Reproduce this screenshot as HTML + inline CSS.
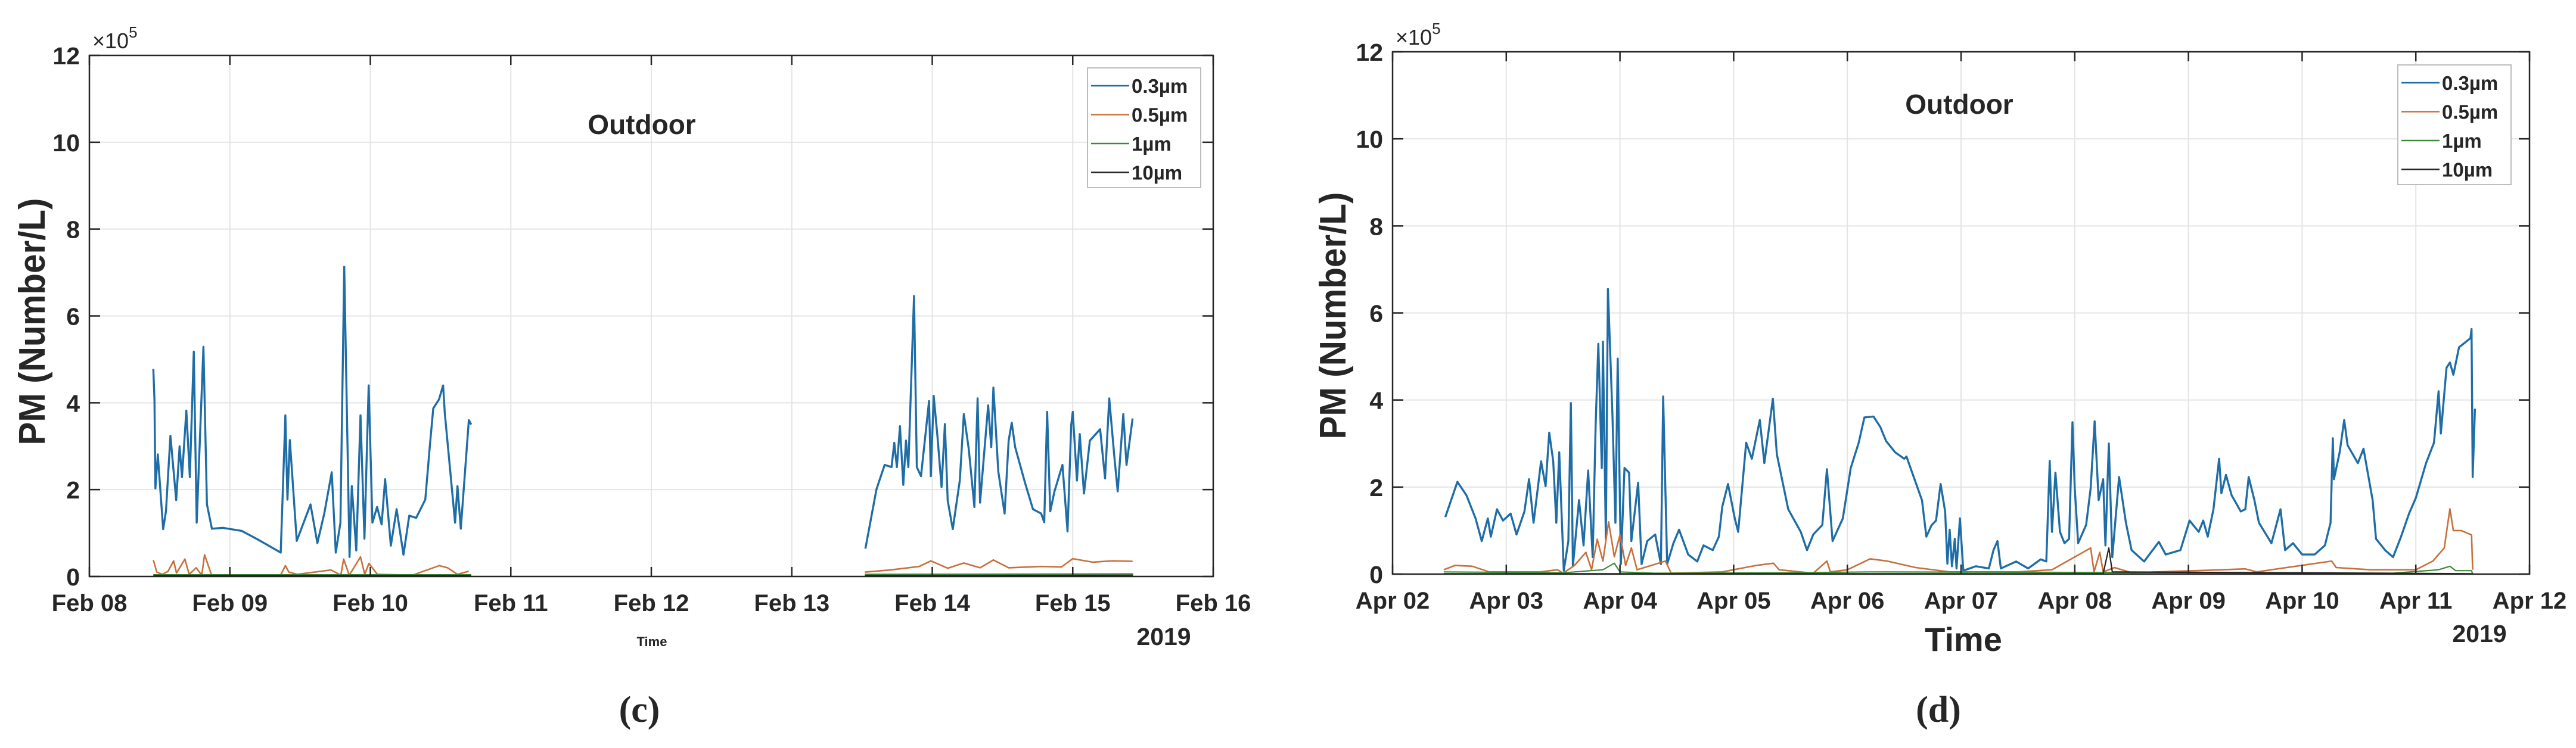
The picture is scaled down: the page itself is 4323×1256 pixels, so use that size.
<!DOCTYPE html>
<html><head><meta charset="utf-8"><style>
html,body{margin:0;padding:0;background:#fff;}
svg{display:block;}
text{font-family:"Liberation Sans",Arial,sans-serif;fill:#262626;}
</style></head>
<body>
<svg id="fig" xmlns="http://www.w3.org/2000/svg" width="4323" height="1256" viewBox="0 0 4323 1256">
<rect width="4323" height="1256" fill="#fff"/>
</svg>
<script>
// ---------- Chart (c): Feb 08 - Feb 16 ----------
const cTickLabels = ["Feb 08","Feb 09","Feb 10","Feb 11","Feb 12","Feb 13","Feb 14","Feb 15","Feb 16"];
const yTickLabels = ["0","2","4","6","8","10","12"];
const yTickValues = [0,2,4,6,8,10,12];
const seriesNames = ["0.3µm","0.5µm","1µm","10µm"];
// time in days from first tick; values x10^5 (null = gap)
const cBlueT = [0.455,0.463,0.47,0.487,0.525,0.545,0.577,0.618,0.642,0.659,0.69,0.715,0.743,0.764,0.812,0.837,0.872,0.95,1.084,1.2,1.362,1.395,1.41,1.427,1.476,1.574,1.623,1.672,1.725,1.754,1.787,1.814,1.852,1.868,1.9,1.93,1.958,1.988,2.015,2.048,2.08,2.105,2.146,2.187,2.236,2.277,2.326,2.391,2.424,2.448,2.489,2.518,2.53,2.603,2.62,2.644,2.701,2.718,
 null,
 5.524,5.603,5.661,5.71,5.73,5.748,5.77,5.794,5.813,5.83,5.87,5.89,5.92,5.977,5.99,6.01,6.037,6.066,6.09,6.11,6.146,6.196,6.225,6.26,6.3,6.323,6.34,6.398,6.42,6.435,6.47,6.515,6.544,6.566,6.59,6.66,6.717,6.775,6.797,6.818,6.84,6.87,6.927,6.963,6.989,7.0,7.03,7.05,7.08,7.122,7.195,7.23,7.26,7.296,7.32,7.36,7.383,7.426];
const cBlueV = [4.78,4.08,2.03,2.81,1.09,1.5,3.24,1.76,3.0,2.29,3.82,2.29,5.18,1.24,5.29,1.66,1.1,1.12,1.05,0.85,0.55,3.71,1.77,3.14,0.82,1.66,0.77,1.45,2.4,0.55,1.24,7.13,0.45,2.08,0.6,3.71,0.87,4.4,1.24,1.6,1.2,2.24,0.71,1.55,0.5,1.4,1.35,1.77,3.03,3.87,4.08,4.4,3.77,1.24,2.08,1.1,3.6,3.5,
 null,
 0.64,2.01,2.57,2.52,3.08,2.52,3.46,2.11,3.13,2.52,6.46,2.52,2.31,4.04,2.31,4.16,3.23,2.06,3.51,1.75,1.09,2.21,3.74,2.93,1.6,4.1,1.7,3.94,2.98,4.35,2.42,1.45,3.13,3.54,2.98,2.16,1.55,1.45,1.25,3.79,1.5,1.96,2.57,1.04,3.49,3.79,2.21,3.28,1.91,3.13,3.39,2.26,4.1,2.77,1.96,3.74,2.57,3.64];
const cOrangeT = [0.455,0.48,0.52,0.56,0.6,0.62,0.68,0.71,0.76,0.8,0.82,0.87,1.0,1.36,1.395,1.42,1.48,1.72,1.79,1.81,1.85,1.93,1.96,1.99,2.05,2.3,2.49,2.55,2.62,2.7,
 null,5.52,5.7,5.907,5.99,6.11,6.225,6.34,6.435,6.544,6.775,6.92,7.0,7.14,7.28,7.426];
const cOrangeV = [0.38,0.1,0.05,0.12,0.36,0.08,0.4,0.05,0.2,0.03,0.5,0.03,0.02,0.02,0.25,0.1,0.05,0.15,0.03,0.4,0.03,0.45,0.05,0.3,0.05,0.03,0.25,0.2,0.05,0.12,
 null,0.1,0.15,0.23,0.36,0.19,0.31,0.2,0.38,0.2,0.23,0.22,0.41,0.33,0.36,0.35];
const cGreenT = [0.455,2.718,null,5.52,7.43];
const cGreenV = [0.04,0.04,null,0.05,0.06];
const cBlackT = [0.455,2.718,null,5.52,7.43];
const cBlackV = [0.02,0.02,null,0.02,0.03];

// ---------- Chart (d): Apr 02 - Apr 12 ----------
const dTickLabels = ["Apr 02","Apr 03","Apr 04","Apr 05","Apr 06","Apr 07","Apr 08","Apr 09","Apr 10","Apr 11","Apr 12"];
const dBlueT = [0.464,0.57,0.65,0.73,0.784,0.838,0.864,0.918,0.971,1.038,1.09,1.16,1.2,1.24,1.306,1.346,1.378,1.413,1.44,1.466,1.506,1.546,1.568,1.586,1.64,1.68,1.72,1.76,1.786,1.81,1.84,1.85,1.876,1.894,1.934,1.96,1.98,2.008,2.04,2.08,2.1,2.16,2.19,2.24,2.31,2.36,2.38,2.415,2.47,2.52,2.6,2.68,2.735,2.816,2.87,2.9,2.95,3.01,3.04,3.11,3.16,3.23,3.27,3.345,3.38,3.48,3.59,3.645,3.7,3.78,3.82,3.87,3.96,4.03,4.1,4.15,4.23,4.29,4.34,4.42,4.5,
 4.52,4.656,4.695,4.74,4.78,4.82,4.86,4.88,4.9,4.92,4.945,4.96,4.99,5.02,5.13,5.245,5.285,5.32,5.35,5.485,5.59,5.7,5.75,5.78,5.8,5.83,5.87,5.91,5.95,5.98,6.0,6.03,6.1,6.14,6.175,6.21,6.25,6.27,6.3,6.33,6.39,6.45,6.5,6.61,6.74,6.8,6.93,7.01,7.09,7.13,7.17,7.22,7.27,7.29,7.33,7.38,7.46,7.5,7.53,7.58,7.62,7.73,7.81,7.85,7.92,
 8.0,8.11,8.2,8.25,8.27,8.28,8.33,8.37,8.4,8.49,8.54,8.62,8.65,8.73,8.8,8.87,8.94,9.0,9.09,9.16,9.2,9.22,9.27,9.3,9.33,9.38,9.48,9.49,9.5,9.52];
const dBlueV = [1.31,2.12,1.81,1.28,0.76,1.28,0.86,1.49,1.23,1.39,0.91,1.44,2.18,1.18,2.59,2.02,3.25,2.59,1.18,2.8,0.08,0.76,3.93,0.18,1.7,0.66,2.38,0.39,3.43,5.29,2.44,5.34,0.81,6.55,3.64,1.18,4.95,0.23,2.44,2.33,0.76,2.1,0.23,0.76,0.91,0.23,4.08,0.23,0.71,1.02,0.45,0.29,0.66,0.55,0.86,1.55,2.07,1.28,0.97,3.02,2.65,3.54,2.55,4.03,2.75,1.49,0.97,0.55,0.91,1.13,2.41,0.76,1.28,2.44,3.02,3.6,3.62,3.38,3.06,2.8,2.65,
 2.7,1.7,0.86,1.12,1.23,2.07,1.44,0.24,1.02,0.18,0.81,0.13,1.28,0.08,0.18,0.13,0.55,0.76,0.13,0.29,0.13,0.34,0.29,2.6,0.97,2.33,0.97,0.71,0.81,3.49,1.97,0.71,1.13,1.97,3.51,1.7,2.18,0.66,3.0,0.39,2.23,1.18,0.55,0.29,0.74,0.45,0.55,1.23,0.97,1.23,0.86,1.49,2.65,1.86,2.28,1.81,1.44,1.49,2.23,1.7,1.18,0.71,1.49,0.55,0.71,
 0.45,0.45,0.66,1.18,3.12,2.18,2.8,3.54,2.96,2.55,2.88,1.7,0.81,0.55,0.39,0.86,1.39,1.75,2.55,3.02,4.2,3.23,4.74,4.86,4.58,5.21,5.42,5.63,2.23,3.8];
const dOrangeT = [0.45,0.55,0.7,0.85,1.3,1.45,1.5,1.6,1.7,1.75,1.8,1.85,1.9,1.95,2.0,2.05,2.1,2.15,2.4,2.45,2.9,3.1,3.2,3.35,3.4,3.7,3.82,3.85,4.0,4.2,4.35,4.6,4.9,5.5,5.8,6.14,6.17,6.22,6.25,6.35,6.5,7.3,7.5,7.6,8.26,8.3,8.6,9.0,9.15,9.25,9.3,9.33,9.4,9.49,9.5];
const dOrangeV = [0.1,0.2,0.18,0.05,0.05,0.1,0.02,0.2,0.5,0.1,0.8,0.3,1.2,0.4,0.9,0.2,0.6,0.1,0.3,0.02,0.05,0.15,0.2,0.25,0.1,0.02,0.3,0.05,0.1,0.35,0.3,0.15,0.05,0.05,0.1,0.6,0.05,0.5,0.05,0.15,0.03,0.1,0.12,0.05,0.3,0.15,0.1,0.1,0.3,0.6,1.5,1.0,1.0,0.9,0.1];
const dGreenT = [0.45,1.5,1.85,1.95,2.0,2.3,3.5,4.2,8.8,9.2,9.3,9.35,9.49,9.5];
const dGreenV = [0.05,0.03,0.1,0.25,0.05,0.02,0.03,0.05,0.02,0.1,0.18,0.08,0.08,0.0];
const dBlackT = [0.45,6.25,6.3,6.33,9.5];
const dBlackV = [0.01,0.01,0.6,0.05,0.01];

const NS = "http://www.w3.org/2000/svg";
const svg = document.getElementById('fig');
function mk(tag, attrs, parent){
  const e = document.createElementNS(NS, tag);
  for (const k in attrs) e.setAttribute(k, attrs[k]);
  (parent||svg).appendChild(e);
  return e;
}
const COLORS = ["#1f6da6","#c8703c","#3a8a3a","#222222"];
const WIDTHS = [3.4,2.6,2.2,2.2];

function drawChart(o){
  const g = mk('g', {});
  
  
  const nDays = o.ticks.length - 1;
  const xs = d => o.L + (o.R - o.L) * d / nDays;
  const ys = v => o.B - (o.B - o.T) * v / 12;
  o.ticks.forEach((t,i)=>{
    const l = mk('line',{x1:xs(i),x2:xs(i),y1:o.T,y2:o.B,stroke:'#e4e4e4','stroke-width':2},g);
    
    
  });
  yTickValues.forEach(v=>{
    const l = mk('line',{x1:o.L,x2:o.R,y1:ys(v),y2:ys(v),stroke:'#e4e4e4','stroke-width':2},g);
    
    
  });
  o.series.forEach((s,si)=>{
    let d = '', pen = false;
    for (let i=0;i<s.t.length;i++){
      if (s.t[i]===null || s.v[i]===null){ pen=false; continue; }
      d += (pen?'L':'M') + xs(s.t[i]).toFixed(1) + ' ' + ys(s.v[i]).toFixed(1) + ' ';
      pen = true;
    }
    const p = mk('path',{d:d,fill:'none',stroke:COLORS[si],'stroke-width':WIDTHS[si],'stroke-linejoin':'round'},g);
    
    
  });
  const box = mk('rect',{x:o.L,y:o.T,width:o.R-o.L,height:o.B-o.T,fill:'none',stroke:'#262626','stroke-width':2.5},g);
  
  
  o.ticks.forEach((t,i)=>{
    mk('line',{x1:xs(i),x2:xs(i),y1:o.B,y2:o.B-16,stroke:'#262626','stroke-width':2.5},g);
    mk('line',{x1:xs(i),x2:xs(i),y1:o.T,y2:o.T+16,stroke:'#262626','stroke-width':2.5},g);
    const tx = mk('text',{x:xs(i),y:o.B+58,'text-anchor':'middle','font-size':40,'font-weight':'bold'},g);
    tx.textContent = t;
    
    
  });
  yTickValues.forEach((v,i)=>{
    mk('line',{x1:o.L,x2:o.L+18,y1:ys(v),y2:ys(v),stroke:'#262626','stroke-width':2.5},g);
    mk('line',{x1:o.R,x2:o.R-18,y1:ys(v),y2:ys(v),stroke:'#262626','stroke-width':2.5},g);
    const tx = mk('text',{x:o.L-16,y:ys(v)+15,'text-anchor':'end','font-size':41,'font-weight':'bold'},g);
    tx.textContent = yTickLabels[i];
    
    
  });
  const ex = mk('text',{x:o.L+5,y:o.T-12,'font-size':36},g);
  
  
  ex.textContent = '×10';
  const sup = mk('tspan',{dy:-18,'font-size':26},ex);
  sup.textContent = '5';
  const yl = mk('text',{transform:`translate(${o.ylx},${o.yly}) rotate(-90)`,'text-anchor':'middle','font-size':62,'font-weight':'bold',textLength:415,lengthAdjust:'spacingAndGlyphs'},g);
  yl.textContent = 'PM (Number/L)';
  
  
  const tt = mk('text',{x:o.titleX,y:o.titleY,'text-anchor':'middle','font-size':46,'font-weight':'bold'},g);
  tt.textContent = 'Outdoor';
  
  
  const xl = mk('text',{x:o.xlX,y:o.xlY,'text-anchor':'middle','font-size':o.xlSize,'font-weight':'bold'},g);
  xl.textContent = 'Time';
  
  
  const yr = mk('text',{x:o.yrX,y:o.yrY,'text-anchor':'middle','font-size':41,'font-weight':'bold'},g);
  yr.textContent = '2019';
  
  
  const lg = mk('g',{},g);
  
  
  mk('rect',{x:o.lgX,y:o.lgY,width:190,height:201,fill:'#fff',stroke:'#bdbdbd','stroke-width':2},lg);
  seriesNames.forEach((n,i)=>{
    const yy = o.lgY + 30 + i*48.5;
    const e = mk('g',{},lg);
    
    
    mk('line',{x1:o.lgX+6,x2:o.lgX+70,y1:yy,y2:yy,stroke:COLORS[i],'stroke-width':2.5},e);
    const t = mk('text',{x:o.lgX+74,y:yy+12,'font-size':33,'font-weight':'bold'},e);
    t.textContent = n;
  });
  const pl = mk('text',{x:o.plX,y:1212,'text-anchor':'middle','font-size':62,'font-weight':'bold'},g);
  pl.setAttribute('style','font-family:"Liberation Serif",serif');
  pl.textContent = o.panel;
  
  
}

drawChart({id:'chart-c',L:150,R:2036,T:93,B:968,ticks:cTickLabels,
  series:[{t:cBlueT,v:cBlueV},{t:cOrangeT,v:cOrangeV},{t:cGreenT,v:cGreenV},{t:cBlackT,v:cBlackV}],
  ylx:75,yly:540,titleX:1077,titleY:225,xlX:1094,xlY:1085,xlSize:22,yrX:1953,yrY:1083,
  lgX:1825,lgY:114,plX:1073,panel:'(c)'});
drawChart({id:'chart-d',L:2337,R:4245,T:87,B:964,ticks:dTickLabels,
  series:[{t:dBlueT,v:dBlueV},{t:dOrangeT,v:dOrangeV},{t:dGreenT,v:dGreenV},{t:dBlackT,v:dBlackV}],
  ylx:2258,yly:530,titleX:3288,titleY:191,xlX:3295,xlY:1093,xlSize:56,yrX:4161,yrY:1078,
  lgX:4024,lgY:109,plX:3253,panel:'(d)'});
</script>
</body></html>
